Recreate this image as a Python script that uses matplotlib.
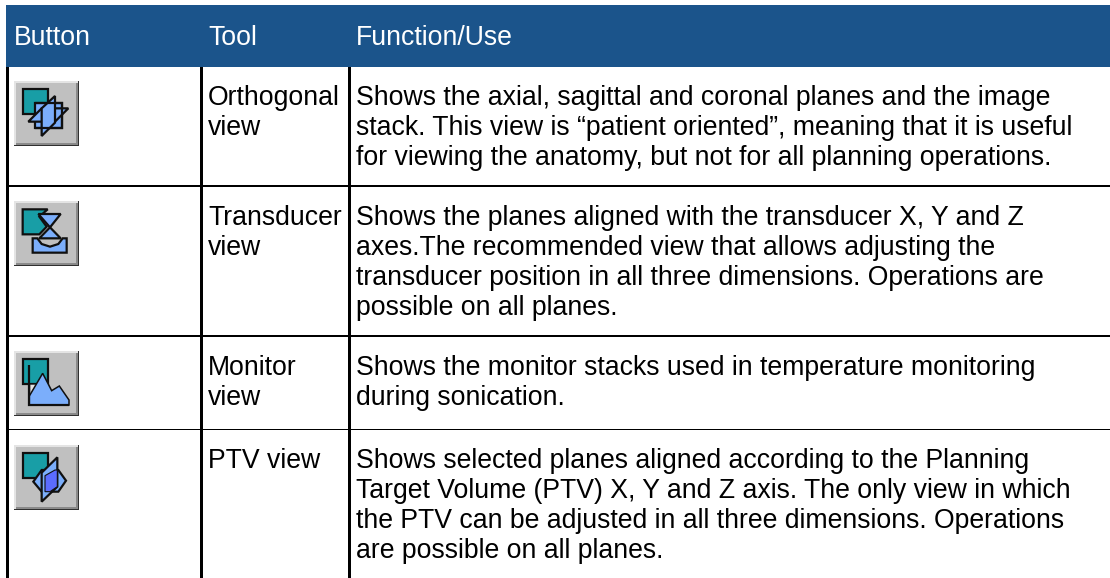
import matplotlib
matplotlib.use("Agg")
import matplotlib.pyplot as plt
from matplotlib.patches import Polygon, Rectangle

W, H = 1110, 578
header = ["Button", "Tool", "Function/Use"]
tools = [["Orthogonal", "view"], ["Transducer", "view"], ["Monitor", "view"], ["PTV view"]]
uses = [
    ["Shows the axial, sagittal and coronal planes and the image",
     "stack. This view is “patient oriented”, meaning that it is useful",
     "for viewing the anatomy, but not for all planning operations."],
    ["Shows the planes aligned with the transducer X, Y and Z",
     "axes.The recommended view that allows adjusting the",
     "transducer position in all three dimensions. Operations are",
     "possible on all planes."],
    ["Shows the monitor stacks used in temperature monitoring",
     "during sonication."],
    ["Shows selected planes aligned according to the Planning",
     "Target Volume (PTV) X, Y and Z axis. The only view in which",
     "the PTV can be adjusted in all three dimensions. Operations",
     "are possible on all planes."],
]
baselines = [[105, 135, 165], [225, 255, 285, 315], [375, 405], [468, 498, 528, 558]]
icon_offsets = [50, 170, 320, 414]

NAVY, TEAL, BLUE, DEEP, GREY = "#1B548B", "#189EA6", "#7BAEFB", "#5B6CFF", "#C0C0C0"
FS = 19.15
FONT = "Liberation Sans"

fig = plt.figure(figsize=(W / 100, H / 100), dpi=100)
ax = fig.add_axes([0, 0, 1, 1])
ax.set_xlim(0, W)
ax.set_ylim(H, 0)
ax.axis("off")

def rect(x0, y0, x1, y1, color, z=1):
    ax.add_patch(Rectangle((x0, y0), x1 - x0, y1 - y0, fc=color, ec="none", lw=0, zorder=z))

# header band and rules
rect(6, 5, W, 67, NAVY)
rect(6, 67, 8.6, H, "black")
rect(200.4, 67, 202.8, H, "black")
rect(348.2, 67, 350.8, H, "black")
rect(6, 184.6, W, 186.6, "black")
rect(6, 334.6, W, 337.2, "black")
rect(6, 428.6, W, 430, "black")

for x, t in zip([14, 208, 356], header):
    ax.text(x, 45, t, color="white", fontsize=FS, family=FONT, va="baseline")
for rows, bases, x in [(tools, baselines, 208), (uses, baselines, 356)]:
    for lines, ys in zip(rows, bases):
        for line, y in zip(lines, ys):
            ax.text(x, y, line, color="black", fontsize=FS, family=FONT, va="baseline")

def icon(off, shapes):
    def P(pts):
        return [(a / 3, b / 3 + off) for a, b in pts]
    rect(14, 31 + off, 79, 96 + off, "#303030", 2)
    rect(14, 31 + off, 77.5, 94.5 + off, "#E4E4E4", 2.1)
    rect(15.5, 32.5 + off, 77.5, 94.5 + off, "#8A8A8A", 2.2)
    rect(15.5, 32.5 + off, 76, 93 + off, GREY, 2.3)
    for i, (pts, fc, lw) in enumerate(shapes):
        closed = fc is not None
        ax.add_patch(Polygon(P(pts), closed=closed, fc=fc if closed else "none",
                             ec="#101010", lw=lw, zorder=3 + i * 0.01, joinstyle="miter"))

teal_sq = [(68, 118), (145, 118), (145, 193), (68, 193)]
icon(icon_offsets[0], [
    (teal_sq, TEAL, 1.6),
    ([(105, 158), (187, 158), (187, 235), (105, 235)], BLUE, 1.6),
    ([(85, 215), (125, 175), (205, 175), (165, 215)], BLUE, 1.6),
    ([(125, 175), (165, 138), (165, 218), (125, 258)], BLUE, 1.6),
    ([(105, 158), (187, 158), (187, 235), (105, 235)], None, 1.6),
])
icon(icon_offsets[1], [
    ([(68, 118), (143, 118), (118, 140), (140, 170), (118, 193), (68, 193)], TEAL, 1.6),
    ([(98, 205), (112, 205), (125, 222), (150, 230), (175, 222), (188, 205), (200, 205), (200, 248), (98, 248)], BLUE, 1.6),
    ([(115, 132), (182, 132), (150, 172)], BLUE, 1.6),
    ([(150, 172), (118, 205), (182, 205)], BLUE, 1.6),
])
icon(icon_offsets[2], [
    (teal_sq, TEAL, 1.6),
    ([(90, 193), (112, 193), (90, 228)], "#E4E4E4", 0.4),
    ([(88, 228), (128, 160), (155, 212), (178, 198), (207, 240), (207, 255), (88, 255)], BLUE, 1.1),
    ([(87, 135), (87, 255), (207, 255)], None, 1.6),
])
icon(icon_offsets[3], [
    (teal_sq, TEAL, 1.6),
    ([(100, 203), (125, 168), (175, 168), (198, 200), (175, 233), (125, 233)], BLUE, 1.6),
    ([(125, 176), (172, 130), (172, 218), (125, 263)], BLUE, 1.6),
    ([(135, 185), (165, 168), (172, 168), (172, 218), (150, 233), (135, 233)], DEEP, 0.8),
])

fig.savefig("out.png", dpi=100)
